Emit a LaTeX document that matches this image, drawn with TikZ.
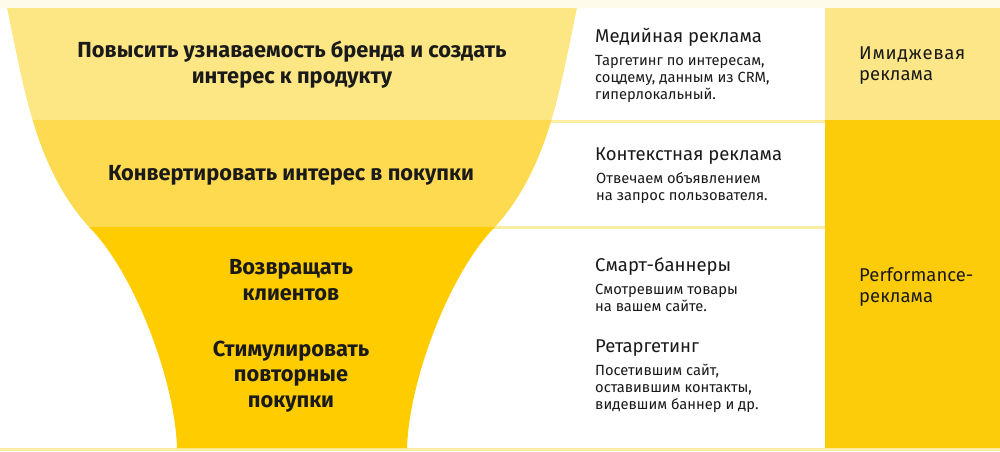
\documentclass[tikz,border=0pt]{standalone}
\usepackage{fontspec}
\setmainfont{Fira Sans}
\definecolor{bandA}{HTML}{FDE785}
\definecolor{bandB}{HTML}{FDDA50}
\definecolor{bandC}{HTML}{FFCC00}
\definecolor{colA}{HTML}{FDE688}
\definecolor{colC}{HTML}{FCCC0A}
\definecolor{sepline}{HTML}{F8EDA0}
\definecolor{cream}{HTML}{FFFBEA}
\definecolor{ink}{HTML}{1A1A1A}
\begin{document}
\begin{tikzpicture}[x=1pt,y=-1pt,
  headline/.style={anchor=base,inner sep=0pt,text=ink,font=\fontsize{21.8}{26}\selectfont\bfseries},
  rtitle/.style={anchor=base west,inner sep=0pt,text=ink,font=\fontsize{18.5}{22}\selectfont},
  rdesc/.style={anchor=base west,inner sep=0pt,text=ink,font=\fontsize{14.7}{17}\selectfont},
  coltitle/.style={anchor=base west,inner sep=0pt,text=ink,font=\fontsize{18.5}{22}\selectfont}]
\useasboundingbox (0,0) rectangle (1000,451);
% background
\fill[white] (0,0) rectangle (1000,451);
\fill[cream] (0,0) rectangle (1000,8);
\fill[sepline] (0,448) rectangle (1000,451);
% separators between white rows
\fill[sepline] (292,119.5) rectangle (825,122.5);
\fill[sepline] (292,226) rectangle (825,229);
% right column
\fill[colA] (825,8) rectangle (1000,120);
\fill[colC] (825,120) rectangle (1000,448);
% funnel
\begin{scope}
\clip (7,8) -- (577,8) .. controls (560,88) and (549,167) .. (495,227)
  .. controls (450,272) and (409,380) .. (407,448) -- (177,448)
  .. controls (175,380) and (134,272) .. (89,227)
  .. controls (35,167) and (24,88) .. (7,8) -- cycle;
\fill[bandA] (0,0) rectangle (1000,120);
\fill[bandB] (0,120) rectangle (1000,227);
\fill[bandC] (0,227) rectangle (1000,451);
\end{scope}
% funnel texts
\node[headline] (h1a) at (292,57) {Повысить узнаваемость бренда и создать};
\node[headline] (h1b) at (292,83.5) {интерес к продукту};
\node[headline] (h2) at (291,180) {Конвертировать интерес в покупки};
\node[headline] (h3a) at (291,274) {Возвращать};
\node[headline] (h3b) at (291,300) {клиентов};
\node[headline] (h4a) at (291,356) {Стимулировать};
\node[headline] (h4b) at (291,381.5) {повторные};
\node[headline] (h4c) at (291,407) {покупки};
% right texts
\node[rtitle] (t1) at (595,42.5) {Медийная реклама};
\node[rdesc] (d1a) at (595,65) {Таргетинг по интересам,};
\node[rdesc] (d1b) at (595,82) {соцдему, данным из CRM,};
\node[rdesc] (d1c) at (595,99) {гиперлокальный.};
\node[rtitle] (t2) at (595,160.5) {Контекстная реклама};
\node[rdesc] (d2a) at (596,183.5) {Отвечаем объявлением};
\node[rdesc] (d2b) at (596,200.5) {на запрос пользователя.};
\node[rtitle] (t3) at (595,271.5) {Смарт-баннеры};
\node[rdesc] (d3a) at (595,294.5) {Смотревшим товары};
\node[rdesc] (d3b) at (595,311.5) {на вашем сайте.};
\node[rtitle] (t4) at (595,352.5) {Ретаргетинг};
\node[rdesc] (d4a) at (595,375.5) {Посетившим сайт,};
\node[rdesc] (d4b) at (595,392.5) {оставившим контакты,};
\node[rdesc] (d4c) at (595,409.5) {видевшим баннер и др.};
% column labels
\node[coltitle] (c1a) at (859,59) {\addfontfeatures{LetterSpace=4}Имиджевая};
\node[coltitle] (c1b) at (859,80) {реклама};
\node[coltitle] (c2a) at (859,281) {Performance-};
\node[coltitle] (c2b) at (859,302) {реклама};
\end{tikzpicture}
\end{document}
